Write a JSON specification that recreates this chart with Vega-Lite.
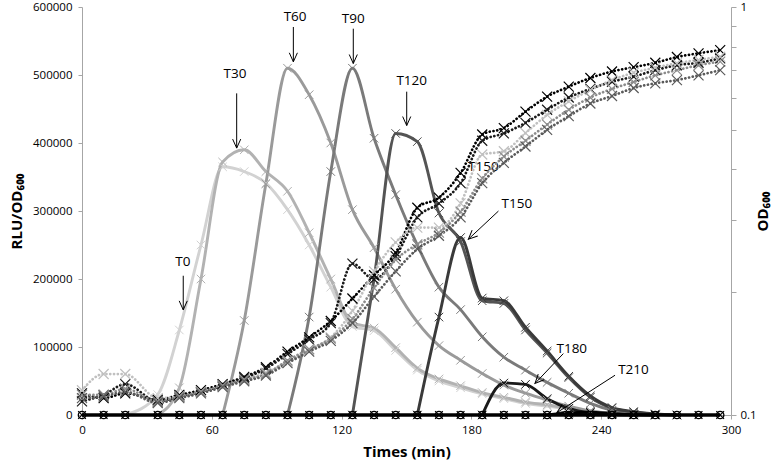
{
"$schema":"https://vega.github.io/schema/vega-lite/v6.json",
"width":649,"height":408,
"autosize":{"type":"none"},
"padding":{"left":82,"top":7,"right":46,"bottom":47},
"background":"white",
"config":{"view":{"stroke":null},"font":"Open Sans",
 "axis":{"grid":false,"domainColor":"#a6a6a6","tickColor":"#a6a6a6","labelFont":"Open Sans","labelFontSize":11.5,"labelColor":"#000","titleFont":"Open Sans","titleFontWeight":"bold","titleFontSize":15,"titleColor":"#000","labelFlush":false,"labelOverlap":false}},
"datasets":{
"lum":[
{"s":"T0","t":20,"v":0},{"s":"T0","t":35,"v":30000},{"s":"T0","t":45,"v":125000},{"s":"T0","t":55,"v":250000},{"s":"T0","t":65,"v":365000},{"s":"T0","t":75,"v":358000},{"s":"T0","t":85,"v":341000},{"s":"T0","t":95,"v":302000},{"s":"T0","t":105,"v":250000},{"s":"T0","t":115,"v":188000},{"s":"T0","t":125,"v":130000},{"s":"T0","t":135,"v":124000},{"s":"T0","t":145,"v":95000},{"s":"T0","t":155,"v":66000},{"s":"T0","t":165,"v":50000},{"s":"T0","t":175,"v":40000},{"s":"T0","t":185,"v":31000},{"s":"T0","t":195,"v":24000},{"s":"T0","t":205,"v":17000},{"s":"T0","t":215,"v":13000},{"s":"T0","t":225,"v":9000},{"s":"T0","t":235,"v":5000},{"s":"T0","t":245,"v":2000},{"s":"T0","t":255,"v":500},{"s":"T0","t":265,"v":0},
{"s":"T30","t":35,"v":0},{"s":"T30","t":45,"v":40000},{"s":"T30","t":55,"v":200000},{"s":"T30","t":65,"v":372000},{"s":"T30","t":75,"v":390000},{"s":"T30","t":85,"v":358000},{"s":"T30","t":95,"v":329000},{"s":"T30","t":105,"v":268000},{"s":"T30","t":115,"v":200000},{"s":"T30","t":125,"v":135000},{"s":"T30","t":135,"v":128000},{"s":"T30","t":145,"v":99000},{"s":"T30","t":155,"v":69000},{"s":"T30","t":165,"v":53000},{"s":"T30","t":175,"v":43000},{"s":"T30","t":185,"v":33000},{"s":"T30","t":195,"v":26000},{"s":"T30","t":205,"v":19000},{"s":"T30","t":215,"v":15000},{"s":"T30","t":225,"v":10000},{"s":"T30","t":235,"v":6000},{"s":"T30","t":245,"v":2500},{"s":"T30","t":255,"v":800},{"s":"T30","t":265,"v":0},
{"s":"T60","t":65,"v":0},{"s":"T60","t":75,"v":139000},{"s":"T60","t":85,"v":340000},{"s":"T60","t":95,"v":510000},{"s":"T60","t":105,"v":471000},{"s":"T60","t":115,"v":400000},{"s":"T60","t":125,"v":302000},{"s":"T60","t":135,"v":246000},{"s":"T60","t":145,"v":185000},{"s":"T60","t":155,"v":136500},{"s":"T60","t":165,"v":102000},{"s":"T60","t":175,"v":80500},{"s":"T60","t":185,"v":61000},{"s":"T60","t":195,"v":44000},{"s":"T60","t":205,"v":32000},{"s":"T60","t":215,"v":22000},{"s":"T60","t":225,"v":13000},{"s":"T60","t":235,"v":6000},{"s":"T60","t":245,"v":2000},{"s":"T60","t":255,"v":0},
{"s":"T90","t":95,"v":0},{"s":"T90","t":105,"v":144000},{"s":"T90","t":115,"v":358000},{"s":"T90","t":125,"v":510000},{"s":"T90","t":135,"v":407000},{"s":"T90","t":145,"v":324000},{"s":"T90","t":155,"v":250000},{"s":"T90","t":165,"v":188000},{"s":"T90","t":175,"v":155000},{"s":"T90","t":185,"v":115000},{"s":"T90","t":195,"v":85000},{"s":"T90","t":205,"v":66000},{"s":"T90","t":215,"v":48000},{"s":"T90","t":225,"v":32000},{"s":"T90","t":235,"v":17000},{"s":"T90","t":245,"v":7000},{"s":"T90","t":255,"v":2500},{"s":"T90","t":265,"v":0},
{"s":"T120","t":125,"v":0},{"s":"T120","t":135,"v":200000},{"s":"T120","t":145,"v":414000},{"s":"T120","t":155,"v":402000},{"s":"T120","t":165,"v":297000},{"s":"T120","t":175,"v":255000},{"s":"T120","t":185,"v":168000},{"s":"T120","t":195,"v":164000},{"s":"T120","t":205,"v":125000},{"s":"T120","t":215,"v":91000},{"s":"T120","t":225,"v":55000},{"s":"T120","t":235,"v":26000},{"s":"T120","t":245,"v":10000},{"s":"T120","t":255,"v":4000},{"s":"T120","t":265,"v":1000},{"s":"T120","t":275,"v":0},
{"s":"T150","t":155,"v":0},{"s":"T150","t":165,"v":144000},{"s":"T150","t":175,"v":261000},{"s":"T150","t":185,"v":172000},{"s":"T150","t":195,"v":168000},{"s":"T150","t":205,"v":129000},{"s":"T150","t":215,"v":94000},{"s":"T150","t":225,"v":57000},{"s":"T150","t":235,"v":28000},{"s":"T150","t":245,"v":11000},{"s":"T150","t":255,"v":5000},{"s":"T150","t":265,"v":1500},{"s":"T150","t":275,"v":0},
{"s":"T180","t":185,"v":0},{"s":"T180","t":195,"v":47000},{"s":"T180","t":205,"v":45000},{"s":"T180","t":215,"v":24000},{"s":"T180","t":225,"v":9800},{"s":"T180","t":235,"v":3000},{"s":"T180","t":245,"v":500},{"s":"T180","t":255,"v":0},
{"s":"T210","t":215,"v":0},{"s":"T210","t":225,"v":3000},{"s":"T210","t":235,"v":4000},{"s":"T210","t":245,"v":2000},{"s":"T210","t":255,"v":500},{"s":"T210","t":265,"v":0}
],
"base":[
{"t":0,"v":0},{"t":10,"v":0},{"t":20,"v":0},{"t":35,"v":0},{"t":45,"v":0},{"t":55,"v":0},{"t":65,"v":0},{"t":75,"v":0},{"t":85,"v":0},{"t":95,"v":0},{"t":105,"v":0},{"t":115,"v":0},{"t":125,"v":0},{"t":135,"v":0},{"t":145,"v":0},{"t":155,"v":0},{"t":165,"v":0},{"t":175,"v":0},{"t":185,"v":0},{"t":195,"v":0},{"t":205,"v":0},{"t":215,"v":0},{"t":225,"v":0},{"t":235,"v":0},{"t":245,"v":0},{"t":255,"v":0},{"t":265,"v":0},{"t":275,"v":0},{"t":285,"v":0},{"t":295,"v":0}
],
"od":[
{"s":"ODa","t":0,"od":0.113},{"s":"ODa","t":10,"od":0.110},{"s":"ODa","t":20,"od":0.113},{"s":"ODa","t":35,"od":0.109},{"s":"ODa","t":45,"od":0.112},{"s":"ODa","t":55,"od":0.115},{"s":"ODa","t":65,"od":0.119},{"s":"ODa","t":75,"od":0.124},{"s":"ODa","t":85,"od":0.131},{"s":"ODa","t":95,"od":0.143},{"s":"ODa","t":105,"od":0.155},{"s":"ODa","t":115,"od":0.170},{"s":"ODa","t":125,"od":0.193},{"s":"ODa","t":135,"od":0.220},{"s":"ODa","t":145,"od":0.250},{"s":"ODa","t":155,"od":0.322},{"s":"ODa","t":165,"od":0.341},{"s":"ODa","t":175,"od":0.392},{"s":"ODa","t":185,"od":0.487},{"s":"ODa","t":195,"od":0.505},{"s":"ODa","t":205,"od":0.554},{"s":"ODa","t":215,"od":0.603},{"s":"ODa","t":225,"od":0.638},{"s":"ODa","t":235,"od":0.670},{"s":"ODa","t":245,"od":0.695},{"s":"ODa","t":255,"od":0.712},{"s":"ODa","t":265,"od":0.730},{"s":"ODa","t":275,"od":0.754},{"s":"ODa","t":285,"od":0.770},{"s":"ODa","t":295,"od":0.784},
{"s":"ODb","t":0,"od":0.108},{"s":"ODb","t":10,"od":0.112},{"s":"ODb","t":20,"od":0.119},{"s":"ODb","t":35,"od":0.108},{"s":"ODb","t":45,"od":0.111},{"s":"ODb","t":55,"od":0.114},{"s":"ODb","t":65,"od":0.118},{"s":"ODb","t":75,"od":0.123},{"s":"ODb","t":85,"od":0.130},{"s":"ODb","t":95,"od":0.141},{"s":"ODb","t":105,"od":0.153},{"s":"ODb","t":115,"od":0.168},{"s":"ODb","t":125,"od":0.235},{"s":"ODb","t":135,"od":0.215},{"s":"ODb","t":145,"od":0.245},{"s":"ODb","t":155,"od":0.305},{"s":"ODb","t":165,"od":0.330},{"s":"ODb","t":175,"od":0.370},{"s":"ODb","t":185,"od":0.470},{"s":"ODb","t":195,"od":0.490},{"s":"ODb","t":205,"od":0.520},{"s":"ODb","t":215,"od":0.560},{"s":"ODb","t":225,"od":0.600},{"s":"ODb","t":235,"od":0.630},{"s":"ODb","t":245,"od":0.656},{"s":"ODb","t":255,"od":0.675},{"s":"ODb","t":265,"od":0.700},{"s":"ODb","t":275,"od":0.720},{"s":"ODb","t":285,"od":0.730},{"s":"ODb","t":295,"od":0.748},
{"s":"ODc","t":0,"od":0.115},{"s":"ODc","t":10,"od":0.126},{"s":"ODc","t":20,"od":0.126},{"s":"ODc","t":35,"od":0.110},{"s":"ODc","t":45,"od":0.111},{"s":"ODc","t":55,"od":0.114},{"s":"ODc","t":65,"od":0.118},{"s":"ODc","t":75,"od":0.122},{"s":"ODc","t":85,"od":0.127},{"s":"ODc","t":95,"od":0.135},{"s":"ODc","t":105,"od":0.144},{"s":"ODc","t":115,"od":0.155},{"s":"ODc","t":125,"od":0.180},{"s":"ODc","t":135,"od":0.225},{"s":"ODc","t":145,"od":0.265},{"s":"ODc","t":155,"od":0.288},{"s":"ODc","t":165,"od":0.288},{"s":"ODc","t":175,"od":0.330},{"s":"ODc","t":185,"od":0.435},{"s":"ODc","t":195,"od":0.443},{"s":"ODc","t":205,"od":0.491},{"s":"ODc","t":215,"od":0.544},{"s":"ODc","t":225,"od":0.587},{"s":"ODc","t":235,"od":0.626},{"s":"ODc","t":245,"od":0.662},{"s":"ODc","t":255,"od":0.690},{"s":"ODc","t":265,"od":0.710},{"s":"ODc","t":275,"od":0.728},{"s":"ODc","t":285,"od":0.742},{"s":"ODc","t":295,"od":0.755},
{"s":"ODd","t":0,"od":0.112},{"s":"ODd","t":10,"od":0.112},{"s":"ODd","t":20,"od":0.116},{"s":"ODd","t":35,"od":0.108},{"s":"ODd","t":45,"od":0.111},{"s":"ODd","t":55,"od":0.114},{"s":"ODd","t":65,"od":0.118},{"s":"ODd","t":75,"od":0.122},{"s":"ODd","t":85,"od":0.126},{"s":"ODd","t":95,"od":0.136},{"s":"ODd","t":105,"od":0.145},{"s":"ODd","t":115,"od":0.154},{"s":"ODd","t":125,"od":0.172},{"s":"ODd","t":135,"od":0.205},{"s":"ODd","t":145,"od":0.240},{"s":"ODd","t":155,"od":0.262},{"s":"ODd","t":165,"od":0.280},{"s":"ODd","t":175,"od":0.315},{"s":"ODd","t":185,"od":0.380},{"s":"ODd","t":195,"od":0.430},{"s":"ODd","t":205,"od":0.470},{"s":"ODd","t":215,"od":0.515},{"s":"ODd","t":225,"od":0.560},{"s":"ODd","t":235,"od":0.600},{"s":"ODd","t":245,"od":0.630},{"s":"ODd","t":255,"od":0.655},{"s":"ODd","t":265,"od":0.680},{"s":"ODd","t":275,"od":0.700},{"s":"ODd","t":285,"od":0.720},{"s":"ODd","t":295,"od":0.735},
{"s":"ODe","t":0,"od":0.110},{"s":"ODe","t":10,"od":0.111},{"s":"ODe","t":20,"od":0.114},{"s":"ODe","t":35,"od":0.107},{"s":"ODe","t":45,"od":0.110},{"s":"ODe","t":55,"od":0.113},{"s":"ODe","t":65,"od":0.117},{"s":"ODe","t":75,"od":0.121},{"s":"ODe","t":85,"od":0.125},{"s":"ODe","t":95,"od":0.134},{"s":"ODe","t":105,"od":0.143},{"s":"ODe","t":115,"od":0.152},{"s":"ODe","t":125,"od":0.168},{"s":"ODe","t":135,"od":0.195},{"s":"ODe","t":145,"od":0.225},{"s":"ODe","t":155,"od":0.255},{"s":"ODe","t":165,"od":0.275},{"s":"ODe","t":175,"od":0.305},{"s":"ODe","t":185,"od":0.370},{"s":"ODe","t":195,"od":0.415},{"s":"ODe","t":205,"od":0.455},{"s":"ODe","t":215,"od":0.500},{"s":"ODe","t":225,"od":0.540},{"s":"ODe","t":235,"od":0.580},{"s":"ODe","t":245,"od":0.605},{"s":"ODe","t":255,"od":0.633},{"s":"ODe","t":265,"od":0.650},{"s":"ODe","t":275,"od":0.662},{"s":"ODe","t":285,"od":0.680},{"s":"ODe","t":295,"od":0.700}
],
"labels":[
{"label":"T0","t":46.6,"v":224300},{"label":"T30","t":70.7,"v":502200},{"label":"T60","t":98.5,"v":585200},{"label":"T90","t":125.4,"v":582700},{"label":"T120","t":152.4,"v":491100},{"label":"T150","t":201,"v":309700},{"label":"T150","t":185.5,"v":364300},{"label":"T180","t":226.4,"v":97600},{"label":"T210","t":254.9,"v":65800}
],
"arrows":[
{"label":"T0","t1":46.8,"v1":204800,"t2":46.8,"v2":154600},
{"label":"T30","t1":71.5,"v1":473000,"t2":71.5,"v2":392500},
{"label":"T60","t1":97.7,"v1":570600,"t2":97.7,"v2":519400},
{"label":"T90","t1":125.4,"v1":568100,"t2":125.4,"v2":516900},
{"label":"T120","t1":150.1,"v1":475500,"t2":150.1,"v2":425700},
{"label":"T150","t1":192.5,"v1":299900,"t2":178.6,"v2":258500},
{"label":"T180","t1":222.5,"v1":90300,"t2":209.4,"v2":46400},
{"label":"T210","t1":246.4,"v1":58500,"t2":219.5,"v2":3400}
]
},
"layer":[
{
"layer":[
{"data":{"name":"lum"},"mark":{"type":"line","interpolate":"monotone","strokeWidth":2.9},
 "encoding":{
  "x":{"field":"t","type":"quantitative","scale":{"domain":[0,300],"nice":false,"zero":false},"axis":{"title":"Times (min)","values":[0,60,120,180,240,300],"tickSize":4,"labelPadding":5,"titlePadding":9}},
  "y":{"field":"v","type":"quantitative","scale":{"domain":[0,600000],"nice":false},"axis":{"orient":"left","title":"RLU/OD₆₀₀","values":[0,100000,200000,300000,400000,500000,600000],"format":"d","tickSize":4,"labelPadding":6,"titlePadding":8}},
  "color":{"field":"s","type":"nominal","legend":null,"scale":{"domain":["T0","T30","T60","T90","T120","T150","T180","T210","ODa","ODb","ODc","ODd","ODe"],"range":["#d2d2d2","#b2b2b2","#9a9a9a","#7a7a7a","#545454","#3a3a3a","#1a1a1a","#000000","#000000","#1a1a1a","#c0c0c0","#8c8c8c","#5a5a5a"]}}}},
{"data":{"name":"lum"},"mark":{"type":"point","shape":"M-1,-1L1,1M-1,1L1,-1","filled":false,"size":72,"strokeWidth":1,"opacity":1},
 "encoding":{
  "x":{"field":"t","type":"quantitative","axis":{"title":"Times (min)","values":[0,60,120,180,240,300],"tickSize":4,"labelPadding":5,"titlePadding":9}},
  "y":{"field":"v","type":"quantitative"},
  "color":{"field":"s","type":"nominal","legend":null}}},
{"data":{"name":"base"},"mark":{"type":"line","color":"#000000","strokeWidth":3.5},
 "encoding":{"x":{"field":"t","type":"quantitative","axis":{"title":"Times (min)","values":[0,60,120,180,240,300],"tickSize":4,"labelPadding":5,"titlePadding":9}},"y":{"field":"v","type":"quantitative"}}},
{"data":{"name":"base"},"mark":{"type":"point","shape":"circle","filled":false,"size":55,"strokeWidth":1.3,"color":"#000000","opacity":1},
 "encoding":{"x":{"field":"t","type":"quantitative"},"y":{"field":"v","type":"quantitative"}}},
{"data":{"name":"base"},"mark":{"type":"point","shape":"M-1,-1L1,1M-1,1L1,-1","filled":false,"size":60,"strokeWidth":1.2,"color":"#000000","opacity":1},
 "encoding":{"x":{"field":"t","type":"quantitative"},"y":{"field":"v","type":"quantitative"}}},
{"data":{"name":"arrows"},"mark":{"type":"rule","color":"#000000","strokeWidth":1},
 "encoding":{"x":{"field":"t1","type":"quantitative","axis":{"title":"Times (min)","values":[0,60,120,180,240,300],"tickSize":4,"labelPadding":5,"titlePadding":9}},"y":{"field":"v1","type":"quantitative"},"x2":{"field":"t2"},"y2":{"field":"v2"}}},
{"data":{"name":"arrows"},"transform":[{"calculate":"atan2(-(datum.t2-datum.t1)*2.163,(datum.v1-datum.v2)/1463)*180/PI","as":"ang"}],
 "mark":{"type":"point","shape":"M-0.45,-1L0,0L0.45,-1","filled":false,"size":324,"strokeWidth":1,"color":"#000000","opacity":1},
 "encoding":{"x":{"field":"t2","type":"quantitative","axis":{"title":"Times (min)","values":[0,60,120,180,240,300],"tickSize":4,"labelPadding":5,"titlePadding":9}},"y":{"field":"v2","type":"quantitative"},"angle":{"field":"ang","type":"quantitative","scale":null}}},
{"data":{"name":"labels"},"mark":{"type":"text","font":"Open Sans","fontSize":13.5,"color":"#000000","align":"center","baseline":"middle"},
 "encoding":{"x":{"field":"t","type":"quantitative"},"y":{"field":"v","type":"quantitative"},"text":{"field":"label"}}}
]
},
{
"layer":[
{"data":{"name":"od"},"mark":{"type":"line","interpolate":"monotone","strokeWidth":2.7,"strokeDash":[0.1,3.7],"strokeCap":"round"},
 "encoding":{
  "x":{"field":"t","type":"quantitative","axis":{"title":"Times (min)","values":[0,60,120,180,240,300],"tickSize":4,"labelPadding":5,"titlePadding":9}},
  "y":{"field":"od","type":"quantitative","scale":{"type":"log","domain":[0.1,1],"nice":false},"axis":{"orient":"right","title":"OD₆₀₀","titleAngle":270,"values":[0.1,0.2,0.3,0.4,0.5,0.6,0.7,0.8,0.9,1],"labelExpr":"datum.value==1?'1':(abs(datum.value-0.1)<0.000001?'0.1':'')","tickSize":5,"labelPadding":4,"titlePadding":14}},
  "color":{"field":"s","type":"nominal","legend":null}}},
{"data":{"name":"od"},"mark":{"type":"point","shape":"M-1,-1L1,1M-1,1L1,-1","filled":false,"size":100,"strokeWidth":1.2,"opacity":1},
 "encoding":{
  "x":{"field":"t","type":"quantitative"},
  "y":{"field":"od","type":"quantitative"},
  "color":{"field":"s","type":"nominal","legend":null}}}
]
}
],
"resolve":{"scale":{"y":"independent"},"axis":{"y":"independent"}}
}
